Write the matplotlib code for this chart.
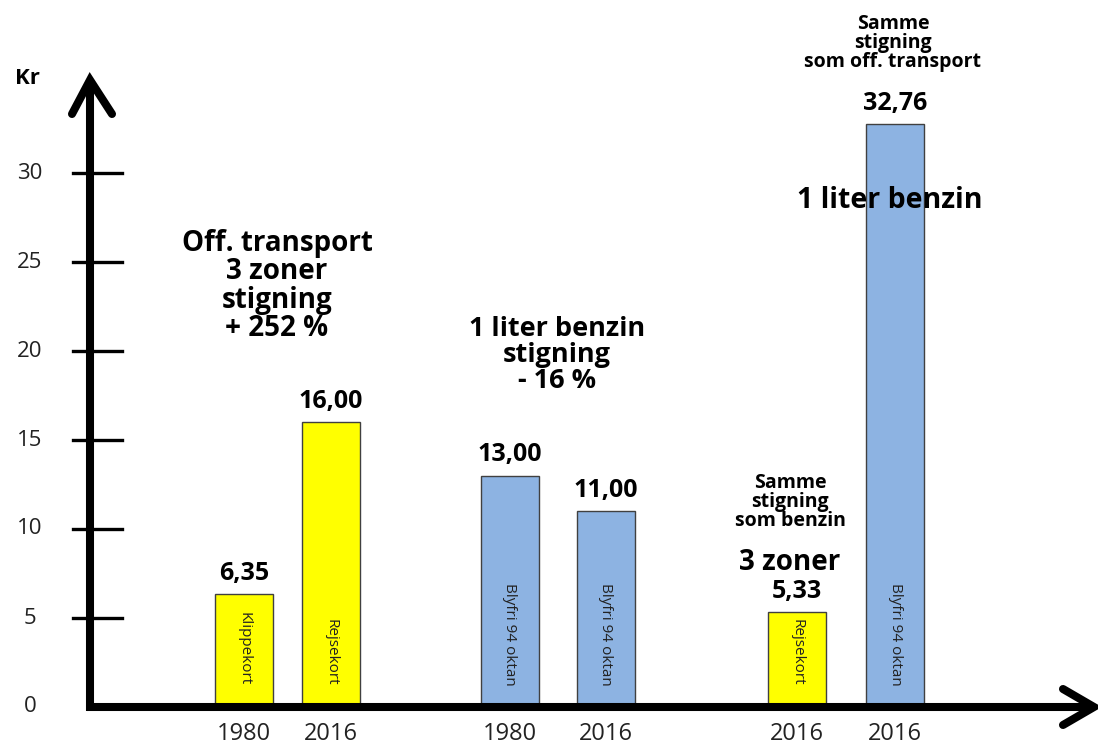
import matplotlib
matplotlib.use('Agg')
import matplotlib.pyplot as plt

plt.rcParams['font.family'] = ['Open Sans', 'DejaVu Sans']

# data
years = ['1980', '2016', '1980', '2016', '2016', '2016']
prices = [6.35, 16.00, 13.00, 11.00, 5.33, 32.76]
price_labels = ['6,35', '16,00', '13,00', '11,00', '5,33', '32,76']
inner_labels = ['Klippekort', 'Rejsekort', 'Blyfri 94 oktan', 'Blyfri 94 oktan',
                'Rejsekort', 'Blyfri 94 oktan']
kinds = ['transport', 'transport', 'benzin', 'benzin', 'transport', 'benzin']
yticks = [0, 5, 10, 15, 20, 25, 30]

# layout (x in pixels, y in kroner)
W, H = 1098, 747
Y0 = 707          # pixel row of the zero line
PX = 17.8         # pixels per krone
bar_x = [244, 331, 510, 606, 797, 895]
bar_w = 58
kind_color = {'transport': '#FFFF00', 'benzin': '#8DB3E2'}

fig = plt.figure(figsize=(W / 100, H / 100), dpi=100)
ax = fig.add_axes([0, 0, 1, 1])
ax.set_xlim(0, W)
ax.set_ylim(-(H - Y0) / PX, Y0 / PX)
ax.axis('off')

# bars
ax.bar(bar_x, prices, width=bar_w, color=[kind_color[k] for k in kinds],
       edgecolor='#404040', linewidth=1, zorder=2)

for x, v, lab, inner in zip(bar_x, prices, price_labels, inner_labels):
    ax.annotate(lab, (x, v), xytext=(0, 6), textcoords='offset points',
                ha='center', va='bottom', fontsize=18, fontweight='bold')
    ax.text(x, 1.2, inner, rotation=270, ha='center', va='bottom',
            fontsize=11, color='#222222', zorder=3)

for x, yr in zip(bar_x, years):
    ax.text(x, -1.5, yr, ha='center', va='center', fontsize=17, color='#222222')

# axes with arrows
lw = 5.8
top = (Y0 - 80) / PX
ax.plot([90, 90], [-0.25, top], color='k', lw=lw, solid_capstyle='butt', zorder=4)
ax.plot([72, 90, 112], [top - 34 / PX, top, top - 34 / PX], color='k', lw=lw,
        solid_capstyle='round', solid_joinstyle='miter', zorder=4)
ax.plot([87, 1093], [0, 0], color='k', lw=lw, solid_capstyle='butt', zorder=4)
ax.plot([1063, 1094, 1063], [18 / PX, 0, -18 / PX], color='k', lw=lw,
        solid_capstyle='round', solid_joinstyle='miter', zorder=4)

for t in yticks:
    if t > 0:
        ax.plot([73, 122], [t, t], color='k', lw=2.4, zorder=4)
    ax.text(30, t, str(t), ha='center', va='center', fontsize=16, color='#222222')
ax.text(27, (Y0 - 78) / PX, 'Kr', ha='center', va='center', fontsize=16,
        fontweight='bold')

# annotations
ax.text(277, (Y0 - 286) / PX, 'Off. transport\n3 zoner\nstigning\n+ 252 %',
        ha='center', va='center', fontsize=20, fontweight='bold', linespacing=0.98)
ax.text(557, (Y0 - 355) / PX, '1 liter benzin\nstigning\n- 16 %',
        ha='center', va='center', fontsize=19.5, fontweight='bold', linespacing=1.0)
ax.text(890, (Y0 - 200) / PX, '1 liter benzin', ha='center', va='center',
        fontsize=20.5, fontweight='bold', zorder=5)
ax.text(790, (Y0 - 502) / PX, 'Samme\nstigning\nsom benzin', ha='center',
        va='center', fontsize=14, fontweight='bold', linespacing=0.95)
ax.text(790, (Y0 - 562) / PX, '3 zoner', ha='center', va='center',
        fontsize=20, fontweight='bold')
ax.text(893, (Y0 - 43) / PX, 'Samme\nstigning\nsom off. transport', ha='center',
        va='center', fontsize=14, fontweight='bold', linespacing=0.95)

fig.savefig('out.png', dpi=100)
